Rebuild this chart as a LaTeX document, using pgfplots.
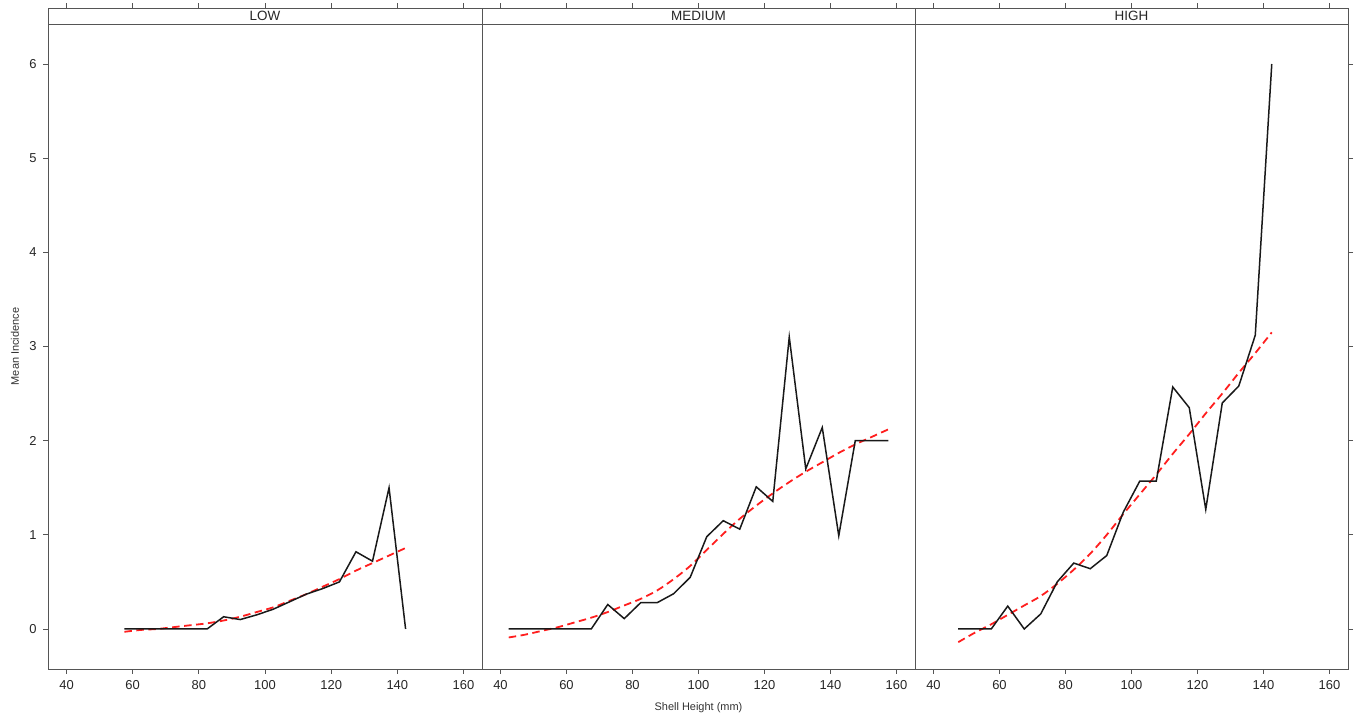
\documentclass[border=0pt]{standalone}
\usepackage{fontspec}
\setmainfont{Liberation Sans}
\usepackage{pgfplots}
\pgfplotsset{compat=1.18}
\usepackage{pgfplotstable}

\definecolor{framegray}{RGB}{85,85,85}
\definecolor{fitred}{RGB}{255,30,30}

% observed mean incidence by shell height class
\pgfplotstableread{
x y
57.5 0
62.5 0
67.5 0
72.5 0
77.5 0
82.5 0
87.5 0.13
92.5 0.10
97.5 0.15
102.5 0.21
107.5 0.29
112.5 0.37
117.5 0.43
122.5 0.50
127.5 0.82
132.5 0.72
137.5 1.50
142.5 0
}\lowobs
\pgfplotstableread{
x y
57.5 -0.03
62.5 -0.01
67.5 0.00
72.5 0.02
77.5 0.04
82.5 0.06
87.5 0.09
92.5 0.13
97.5 0.18
102.5 0.23
107.5 0.30
112.5 0.37
117.5 0.45
122.5 0.53
127.5 0.62
132.5 0.70
137.5 0.78
142.5 0.86
}\lowfit
\pgfplotstableread{
x y
42.5 0
47.5 0
52.5 0
57.5 0
62.5 0
67.5 0
72.5 0.26
77.5 0.11
82.5 0.28
87.5 0.28
92.5 0.375
97.5 0.55
102.5 0.98
107.5 1.15
112.5 1.06
117.5 1.51
122.5 1.355
127.5 3.10
132.5 1.70
137.5 2.14
142.5 0.99
147.5 2.0
152.5 2.0
157.5 2.0
}\medobs
\pgfplotstableread{
x y
42.5 -0.09
47.5 -0.06
52.5 -0.02
57.5 0.02
62.5 0.07
67.5 0.12
72.5 0.18
77.5 0.25
82.5 0.32
87.5 0.41
92.5 0.53
97.5 0.67
102.5 0.84
107.5 1.01
112.5 1.17
117.5 1.31
122.5 1.44
127.5 1.56
132.5 1.67
137.5 1.77
142.5 1.87
147.5 1.96
152.5 2.04
157.5 2.12
}\medfit
\pgfplotstableread{
x y
47.5 0
52.5 0
57.5 0
62.5 0.243
67.5 0
72.5 0.16
77.5 0.50
82.5 0.70
87.5 0.64
92.5 0.78
97.5 1.24
102.5 1.57
107.5 1.57
112.5 2.57
117.5 2.35
122.5 1.27
127.5 2.40
132.5 2.58
137.5 3.12
142.5 6.0
}\highobs
\pgfplotstableread{
x y
47.5 -0.14
52.5 -0.04
57.5 0.05
62.5 0.15
67.5 0.25
72.5 0.35
77.5 0.48
82.5 0.63
87.5 0.80
92.5 1.00
97.5 1.22
102.5 1.43
107.5 1.64
112.5 1.86
117.5 2.07
122.5 2.29
127.5 2.50
132.5 2.72
137.5 2.93
142.5 3.15
}\highfit

\pgfplotsset{
  panel/.style={
    scale only axis, width=#1, height=645bp,
    xmin=34.4, xmax=165.6, ymin=-0.425, ymax=6.425,
    xtick={40,60,...,160}, ytick={0,1,...,6},
    xtick pos=bottom,
    tick align=outside, major tick length=5bp,
    axis line style={framegray, line width=0.9bp},
    every tick/.style={framegray, line width=0.8bp},
    tick label style={font=\fontsize{13}{14}\selectfont, text=black!85},
    xticklabel style={yshift=-3bp},
    yticklabel style={xshift=-3bp},
    /pgf/number format/assume math mode=true,
    clip mode=individual,
    anchor=south west,
  },
  obs/.style={black!90, line width=1.5bp},
  fit/.style={fitred, line width=1.8bp, dash pattern=on 7.5bp off 4.5bp, smooth},
}

% strip above a panel with its label and the top tick marks
\newcommand{\strip}[1]{%
  \draw[framegray, line width=0.9bp] (rel axis cs:0,1) rectangle ([yshift=16bp]rel axis cs:1,1);
  \node[font=\fontsize{13.5}{15}\selectfont, text=black!85] at ([yshift=8bp]rel axis cs:0.5,1) {#1};
  \pgfplotsinvokeforeach{40,60,80,100,120,140,160}{%
    \draw[framegray, line width=0.8bp] ([yshift=16bp]axis cs:##1,6.425) -- ([yshift=21bp]axis cs:##1,6.425);}%
}

\begin{document}
\begin{tikzpicture}
\path[use as bounding box] (0,0) rectangle (1356bp,717bp);

\begin{axis}[panel=434bp, at={(48bp,48bp)}, ytick pos=left,
  ylabel={Mean Incidence},
  ylabel style={font=\fontsize{11}{12}\selectfont, text=black!80,
    at={([xshift=-33bp]rel axis cs:0,0.5)}, anchor=center}]
  \addplot[fit] table {\lowfit};
  \addplot[obs] table {\lowobs};
  \strip{LOW}
\end{axis}

\begin{axis}[panel=433bp, at={(482bp,48bp)}, ytick=\empty,
  xlabel={Shell Height (mm)},
  xlabel style={font=\fontsize{11}{12}\selectfont, text=black!80,
    at={([yshift=-39bp]rel axis cs:0.5,0)}, anchor=center}]
  \addplot[fit] table {\medfit};
  \addplot[obs] table {\medobs};
  \strip{MEDIUM}
\end{axis}

\begin{axis}[panel=433bp, at={(915bp,48bp)}, ytick pos=right, yticklabels={}]
  \addplot[fit] table {\highfit};
  \addplot[obs] table {\highobs};
  \strip{HIGH}
\end{axis}
\end{tikzpicture}
\end{document}
